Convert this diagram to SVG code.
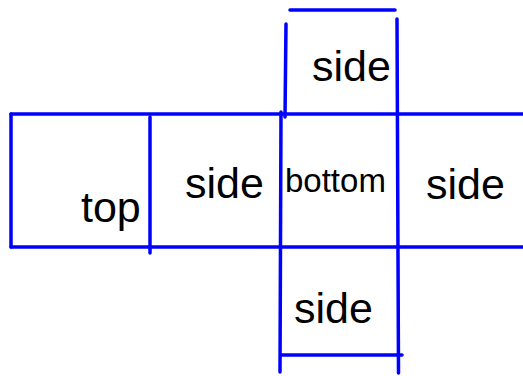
<svg xmlns="http://www.w3.org/2000/svg" width="523" height="376" viewBox="0 0 523 376">
<style>
.l{stroke:#0000ff;stroke-width:3.5;fill:none;stroke-linecap:round}
.t{font-family:"Liberation Sans",Arial,sans-serif;font-size:43px;fill:#000}
.s{font-size:33px}
</style>
<rect width="523" height="376" fill="#fff"/>
<g id="connectors">
<line class="l" x1="290" y1="10" x2="395" y2="10"/>
<line class="l" x1="286" y1="24" x2="285" y2="117"/>
<line class="l" x1="397" y1="19" x2="398.5" y2="373"/>
<line class="l" x1="281" y1="112" x2="280" y2="372"/>
<line class="l" x1="11" y1="114" x2="523" y2="114"/>
<line class="l" x1="11" y1="247" x2="523" y2="247"/>
<line class="l" x1="11" y1="114" x2="11" y2="247"/>
<line class="l" x1="150" y1="117" x2="150" y2="253"/>
<line class="l" x1="281" y1="355" x2="402" y2="355"/>
</g>
<g id="side-top"><text class="t" x="312" y="81">side</text></g>
<g id="top"><text class="t" x="81" y="222">top</text></g>
<g id="side-left"><text class="t" x="185" y="198">side</text></g>
<g id="bottom"><text class="t s" x="285" y="192">bottom</text></g>
<g id="side-right"><text class="t" x="426" y="199">side</text></g>
<g id="side-bottom"><text class="t" x="294" y="323">side</text></g>
</svg>
